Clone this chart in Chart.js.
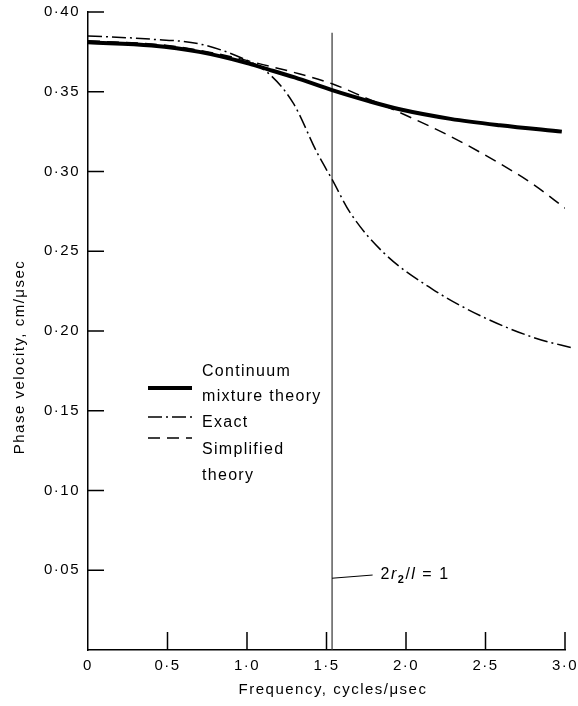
<!DOCTYPE html>
<html>
<head>
<meta charset="utf-8">
<script src="https://cdn.jsdelivr.net/npm/chart.js@4/dist/chart.umd.min.js"></script>
<style>
  html, body { margin: 0; background: #fff; }
  canvas { display: block; }
</style>
</head>
<body>
<canvas id="phaseChart" width="578" height="706"></canvas>
<script>
// values
const continuumFreq = [0, 0.4, 0.7, 1.0, 1.1, 1.3, 1.535, 1.77, 1.96, 2.28, 2.59, 2.98];
const continuumVel = [0.381, 0.379, 0.375, 0.368, 0.365, 0.359, 0.351, 0.344, 0.339, 0.333, 0.329, 0.325];

const exactFreq = [0, 0.39, 0.7, 0.97, 1.13, 1.29, 1.44, 1.535, 1.65, 1.86, 2.17, 2.48, 2.8, 3.06];
const exactVel = [0.385, 0.383, 0.380, 0.371, 0.362, 0.343, 0.312, 0.295, 0.274, 0.249, 0.226, 0.209, 0.196, 0.189];

const simplifiedFreq = [0, 0.5, 0.9, 1.1, 1.3, 1.535, 1.75, 1.96, 2.28, 2.59, 2.8, 3.0];
const simplifiedVel = [0.382, 0.379, 0.372, 0.367, 0.362, 0.355, 0.346, 0.337, 0.322, 0.305, 0.292, 0.277];

const xTicks = [0, 0.5, 1.0, 1.5, 2.0, 2.5, 3.0];
const yTicks = [0.05, 0.10, 0.15, 0.20, 0.25, 0.30, 0.35, 0.40];

// the 2r2/l = 1 marker
const criticalFreq = 1.535;
const criticalTop = 0.387;

const ink = '#000';
const family = '"Liberation Sans", Arial, sans-serif';
const font = { family, size: 15 };
const dashDot = [14, 4, 2, 4];
const dashed = [12, 7];

const toPoints = (xs, ys) => xs.map((x, i) => ({ x, y: ys[i] }));
const fmt = (v, d) => (v === 0 ? '0' : v.toFixed(d).replace('.', '·'));

const overlay = {
  id: 'overlay',
  beforeDraw(chart) {
    chart.ctx.letterSpacing = '1.5px';
  },
  afterDraw(chart) {
    const { ctx, scales: { x, y } } = chart;
    ctx.save();
    ctx.strokeStyle = ink;
    ctx.fillStyle = ink;
    ctx.lineWidth = 1.5;

    // ticks point inwards
    ctx.beginPath();
    yTicks.forEach(v => {
      const py = y.getPixelForValue(v);
      ctx.moveTo(x.left, py);
      ctx.lineTo(x.left + 16, py);
    });
    xTicks.slice(1).forEach(v => {
      const px = x.getPixelForValue(v);
      ctx.moveTo(px, y.bottom);
      ctx.lineTo(px, y.bottom - 18);
    });
    ctx.stroke();

    // axis titles
    ctx.font = '15px ' + family;
    ctx.textAlign = 'center';
    ctx.textBaseline = 'middle';
    ctx.fillText('Frequency, cycles/μsec', 333, 690);
    ctx.save();
    ctx.translate(20, 357);
    ctx.rotate(-Math.PI / 2);
    ctx.fillText('Phase velocity, cm/μsec', 0, 0);
    ctx.restore();
    ctx.textAlign = 'left';

    // leader + label for the marker line
    ctx.lineWidth = 1;
    ctx.beginPath();
    ctx.moveTo(x.getPixelForValue(criticalFreq), y.getPixelForValue(0.045));
    ctx.lineTo(x.getPixelForValue(1.79), y.getPixelForValue(0.047));
    ctx.stroke();

    let tx = x.getPixelForValue(1.84);
    const ty = y.getPixelForValue(0.047);
    const part = (text, style, dy) => {
      ctx.font = style;
      ctx.fillText(text, tx, ty + dy);
      tx += ctx.measureText(text).width;
    };
    part('2', '16px ' + family, 0);
    part('r', 'italic 16px ' + family, 0);
    part('2', 'bold 11px ' + family, 5);
    part('/', '16px ' + family, 0);
    part('l', 'italic 16px ' + family, 0);
    part(' = 1', '16px ' + family, 0);

    // legend
    const samples = [
      { y: 388, width: 4, dash: [] },
      { y: 417, width: 1.5, dash: dashDot },
      { y: 438, width: 1.5, dash: dashed }
    ];
    samples.forEach(s => {
      ctx.lineWidth = s.width;
      ctx.setLineDash(s.dash);
      ctx.beginPath();
      ctx.moveTo(148, s.y);
      ctx.lineTo(192, s.y);
      ctx.stroke();
    });
    ctx.setLineDash([]);
    ctx.font = '16px ' + family;
    ctx.letterSpacing = '1.3px';
    [['Continuum', 372], ['mixture theory', 397], ['Exact', 423], ['Simplified', 450], ['theory', 476]]
      .forEach(([t, py]) => ctx.fillText(t, 202, py));
    ctx.restore();
  }
};

const ctx = document.getElementById('phaseChart').getContext('2d');
new Chart(ctx, {
  type: 'line',
  data: {
    datasets: [
      {
        label: 'Continuum mixture theory',
        data: toPoints(continuumFreq, continuumVel),
        borderColor: ink,
        borderWidth: 4,
        cubicInterpolationMode: 'monotone',
      },
      {
        label: 'Exact',
        data: toPoints(exactFreq, exactVel),
        borderColor: ink,
        borderWidth: 1.5,
        borderDash: dashDot,
        cubicInterpolationMode: 'monotone',
        clip: false,
      },
      {
        label: 'Simplified theory',
        data: toPoints(simplifiedFreq, simplifiedVel),
        borderColor: ink,
        borderWidth: 1.5,
        borderDash: dashed,
        cubicInterpolationMode: 'monotone',
      },
      {
        label: '2r2/l = 1',
        data: [{ x: criticalFreq, y: 0 }, { x: criticalFreq, y: criticalTop }],
        borderColor: '#333',
        borderWidth: 1.2,
      },
    ],
  },
  options: {
    responsive: false,
    animation: false,
    devicePixelRatio: 1,
    layout: { padding: { top: 12, right: 13, left: 0, bottom: 0 } },
    elements: { point: { radius: 0 } },
    plugins: {
      legend: { display: false },
      tooltip: { enabled: false },
    },
    scales: {
      x: {
        type: 'linear',
        min: 0,
        max: 3,
        afterBuildTicks: s => { s.ticks = xTicks.map(v => ({ value: v })); },
        afterFit: s => { s.height = 56; s.paddingLeft = 0; s.paddingRight = 0; },
        ticks: { callback: v => fmt(v, 1), padding: 7, font, color: ink, maxRotation: 0, autoSkip: false },
        grid: { drawOnChartArea: false, drawTicks: false },
        border: { display: true, color: ink, width: 1.5 },
      },
      y: {
        min: 0,
        max: 0.4,
        afterBuildTicks: s => { s.ticks = yTicks.map(v => ({ value: v })); },
        afterFit: s => { s.width = 88; s.paddingTop = 0; s.paddingBottom = 0; },
        ticks: { callback: v => fmt(v, 2), padding: 8, font, color: ink },
        grid: { drawOnChartArea: false, drawTicks: false },
        border: { display: true, color: ink, width: 1.5 },
      },
    },
  },
  plugins: [overlay],
});
</script>
</body>
</html>
